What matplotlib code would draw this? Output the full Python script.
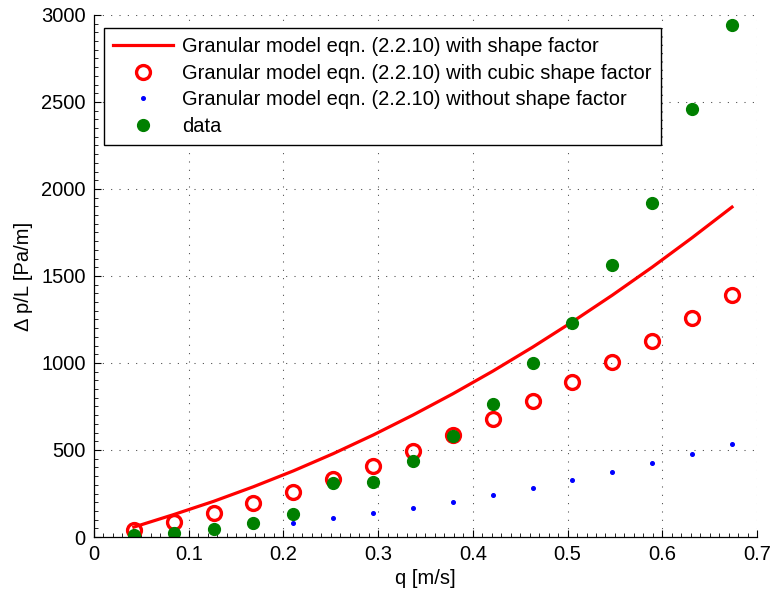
import matplotlib
matplotlib.use("Agg")
import matplotlib.pyplot as plt
from matplotlib.ticker import MultipleLocator, FuncFormatter

plt.rcParams['font.family'] = ['Liberation Sans', 'DejaVu Sans']

# flow rates [m/s]
q = [0.0421, 0.0842, 0.1263, 0.1684, 0.2105, 0.2526, 0.2947, 0.3368,
     0.3789, 0.4210, 0.4631, 0.5052, 0.5473, 0.5894, 0.6315, 0.6736]

# pressure drop per length [Pa/m]
dp_shape = [57, 129, 205, 289, 380, 479, 586, 701,
            823, 953, 1091, 1237, 1390, 1551, 1720, 1896]
dp_cubic = [42, 86, 136, 198, 261, 333, 410, 494,
            585, 680, 782, 893, 1008, 1129, 1259, 1393]
dp_noshape = [9, 22, 38, 57, 80, 109, 136, 169,
              203, 241, 282, 326, 374, 424, 479, 535]
dp_data = [10, 21, 48, 80, 134, 312, 316, 439,
           580, 763, 998, 1232, 1561, 1920, 2462, 2945]

FS = 14.5

fig = plt.figure(figsize=(7.73, 5.97), dpi=100)
ax = fig.add_axes([0.1216, 0.1005, 0.8577, 0.8744])

ax.plot(q, dp_shape, '-', color='red', lw=2.3,
        label='Granular model eqn. (2.2.10) with shape factor')
ax.plot(q, dp_cubic, 'o', mfc='none', mec='red', ms=10, mew=2.4, ls='none',
        label='Granular model eqn. (2.2.10) with cubic shape factor')
ax.plot(q, dp_noshape, 'o', color='blue', ms=2.6, ls='none',
        label='Granular model eqn. (2.2.10) without shape factor')
ax.plot(q, dp_data, 'o', color='#008000', ms=8.5, ls='none',
        label='data')

ax.set_xlim(0, 0.7)
ax.set_ylim(0, 3000)
ax.xaxis.set_major_locator(MultipleLocator(0.1))
ax.xaxis.set_minor_locator(MultipleLocator(0.01))
ax.yaxis.set_major_locator(MultipleLocator(500))
ax.yaxis.set_minor_locator(MultipleLocator(50))
ax.xaxis.set_major_formatter(FuncFormatter(lambda v, p: '%g' % round(v, 2)))

ax.tick_params(which='both', direction='in', labelsize=FS, colors='black')
ax.tick_params(which='major', length=5, width=0.8, pad=6)
ax.tick_params(which='minor', length=3, width=0.6)

for s in ('top', 'right'):
    ax.spines[s].set_visible(False)
for s in ('left', 'bottom'):
    ax.spines[s].set_linewidth(0.9)

ax.grid(True, which='major', color='#444444', lw=0.75, ls=(0, (1, 7)))
ax.set_axisbelow(True)

ax.set_xlabel('q [m/s]', fontsize=FS, labelpad=3)
ax.set_ylabel('\u0394 p/L [Pa/m]', fontsize=FS, labelpad=6)

leg = ax.legend(loc='upper left', bbox_to_anchor=(0.015, 0.975),
                fontsize=FS, fancybox=False, framealpha=1,
                edgecolor='black', handlelength=3.0, handletextpad=0.45,
                borderpad=0.45, labelspacing=0.38, borderaxespad=0)
leg.get_frame().set_linewidth(1.0)

fig.savefig('out.png', dpi=100)
